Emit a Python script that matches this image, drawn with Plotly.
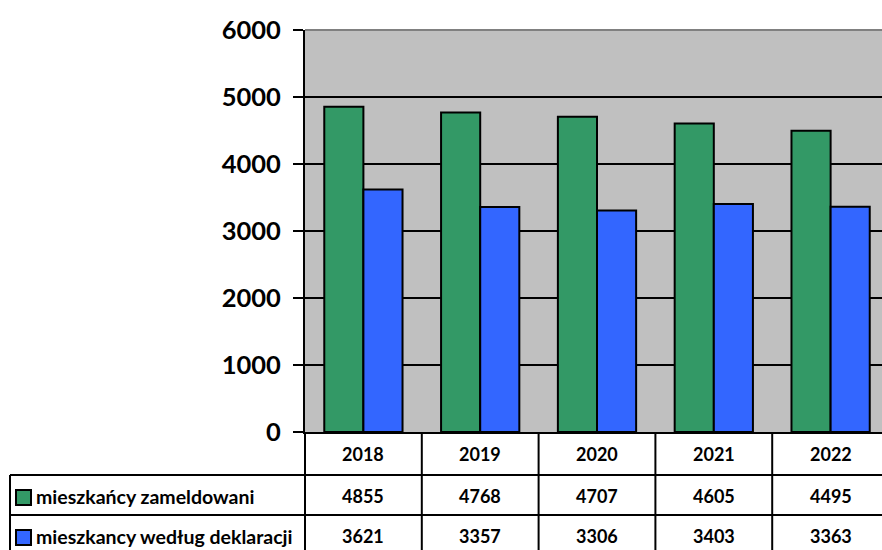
import plotly.graph_objects as go

years = ["2018", "2019", "2020", "2021", "2022"]
zameldowani = [4855, 4768, 4707, 4605, 4495]
deklaracje = [3621, 3357, 3306, 3403, 3363]
series_names = ["mieszkańcy zameldowani", "mieszkancy według deklaracji"]
y_ticks = [0, 1000, 2000, 3000, 4000, 5000, 6000]

GREEN = "#339966"
BLUE = "#3366FF"
FONT = "Lato"

W, H = 882, 550
L, T, B, R = 305, 30, 118, 0
PW = W - L - R
PH = H - T - B
XR = [-0.5, 4.44]


def px_x(px):
    return (px - L) / PW


def px_y(py):
    return (H - B - py) / PH


def cat_paper(v):
    return (v - XR[0]) / (XR[1] - XR[0])


fig = go.Figure()
fig.add_bar(x=list(range(len(years))), y=zameldowani, name=series_names[0],
            marker=dict(color=GREEN, line=dict(color="black", width=2)))
fig.add_bar(x=list(range(len(years))), y=deklaracje, name=series_names[1],
            marker=dict(color=BLUE, line=dict(color="black", width=2)))

shapes = []
annotations = []
line = dict(color="black", width=2)

# top border of plot area (grey)
shapes.append(dict(type="line", xref="paper", yref="paper", x0=0, x1=1, y0=1, y1=1,
                   line=dict(color="#808080", width=2), layer="above"))

# table row lines
for py in (475, 515):
    shapes.append(dict(type="line", xref="paper", yref="paper",
                       x0=px_x(10), x1=1.02, y0=px_y(py), y1=px_y(py), line=line))
# left edge of legend column
shapes.append(dict(type="line", xref="paper", yref="paper",
                   x0=px_x(10), x1=px_x(10), y0=px_y(475), y1=px_y(552), line=line))
# category separators
for i in range(len(years)):
    xp = cat_paper(i - 0.5)
    if i == 0:
        xp = 0
    shapes.append(dict(type="line", xref="paper", yref="paper",
                       x0=xp, x1=xp, y0=0, y1=px_y(552), line=line))

# legend keys
for col, (y0, y1) in zip([GREEN, BLUE], [(490, 505), (530, 545)]):
    shapes.append(dict(type="rect", xref="paper", yref="paper",
                       x0=px_x(16), x1=px_x(31), y0=px_y(y1), y1=px_y(y0),
                       fillcolor=col, line=dict(color="black", width=2)))

tfont = dict(family=FONT, size=18, color="black", weight="bold")
nfont = dict(family=FONT, size=19.5, color="black", weight="bold")
for name, cy in zip(series_names, (496, 536)):
    annotations.append(dict(text=name, xref="paper", yref="paper",
                            x=px_x(34), y=px_y(cy), xanchor="left", yanchor="middle",
                            showarrow=False, font=nfont))

for i, yr in enumerate(years):
    annotations.append(dict(text=yr, xref="x", yref="paper", x=i, y=px_y(454),
                            xanchor="center", yanchor="middle", showarrow=False, font=tfont))
    annotations.append(dict(text=str(zameldowani[i]), xref="x", yref="paper", x=i,
                            y=px_y(496), xanchor="center", yanchor="middle",
                            showarrow=False, font=tfont))
    annotations.append(dict(text=str(deklaracje[i]), xref="x", yref="paper", x=i,
                            y=px_y(536), xanchor="center", yanchor="middle",
                            showarrow=False, font=tfont))

fig.update_layout(
    width=W, height=H,
    margin=dict(l=L, r=R, t=T, b=B, pad=0),
    barmode="group", bargap=0.33, bargroupgap=0,
    plot_bgcolor="#C0C0C0", paper_bgcolor="white",
    showlegend=False,
    shapes=shapes, annotations=annotations,
    xaxis=dict(range=XR, showticklabels=False, showgrid=False, zeroline=False,
               showline=True, linecolor="black", linewidth=2, ticks=""),
    yaxis=dict(range=[0, 6000], tickvals=y_ticks, showgrid=True, gridcolor="black",
               gridwidth=2, zeroline=False, showline=True, linecolor="black",
               linewidth=2, ticks="outside", ticklen=10, tickwidth=2, tickcolor="black",
               ticklabelstandoff=7,
               tickfont=dict(family=FONT, size=25.5, color="black", weight="bold")),
)

fig.write_html("out.html", config={"displayModeBar": False},
               post_script="document.body.style.margin='0';document.body.style.overflow='hidden';")
